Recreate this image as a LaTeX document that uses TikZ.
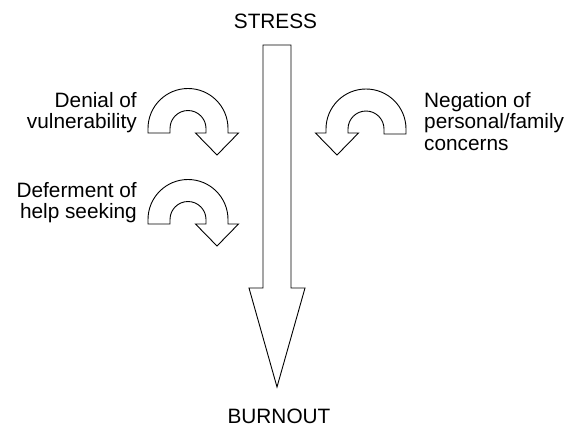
\documentclass[tikz,border=0pt]{standalone}
\usepackage{fontspec}
\setmainfont{Liberation Sans}
\begin{document}
\begin{tikzpicture}[x=1pt,y=1pt,
  outline/.style={draw=black,line width=0.9pt,fill=white,line join=miter},
  label/.style={font=\fontsize{20.8}{21.5}\selectfont,inner sep=0pt}]
\useasboundingbox (0,0) rectangle (567,-426);
\fill[white] (0,0) rectangle (567,-426);

% main downward arrow from stress to burnout
\draw[outline] (263,-45) -- (291,-45) -- (291,-288) -- (305,-288)
  -- (277,-387) -- (249,-288) -- (263,-288) -- cycle;
\node[label,anchor=base] (stress) at (275.5,-28) {STRESS};
\node[label,anchor=base] (burnout) at (279,-423) {BURNOUT};

% clockwise u-turn arrows on the left
\foreach \dy/\nm in {0/a,-91/b}{
  \begin{scope}[yshift=\dy]
  \draw[outline] (148,-133) -- (148,-128.5) arc (180:0:40) -- (228,-133)
    -- (238.5,-133) -- (217,-155) -- (195.5,-133) -- (206,-133)
    -- (206,-128.5) arc (0:180:18) -- (170,-133) -- cycle;
  \end{scope}
}
% counter-clockwise u-turn arrow on the right
\draw[outline] (406,-134) -- (406,-129) arc (0:180:40) -- (326,-133)
  -- (315.5,-133) -- (337,-155) -- (358.5,-133) -- (348,-133)
  -- (348,-129) arc (180:0:18) -- (384,-134) -- cycle;

\node[label,anchor=north east,align=right] (denial) at (137,-92)
  {Denial of\\vulnerability};
\node[label,anchor=north east,align=right] (defer) at (137,-182)
  {Deferment of\\help seeking};
\node[label,anchor=north west,align=left] (negation) at (424,-92)
  {Negation of\\personal/family\\concerns};
\end{tikzpicture}
\end{document}
